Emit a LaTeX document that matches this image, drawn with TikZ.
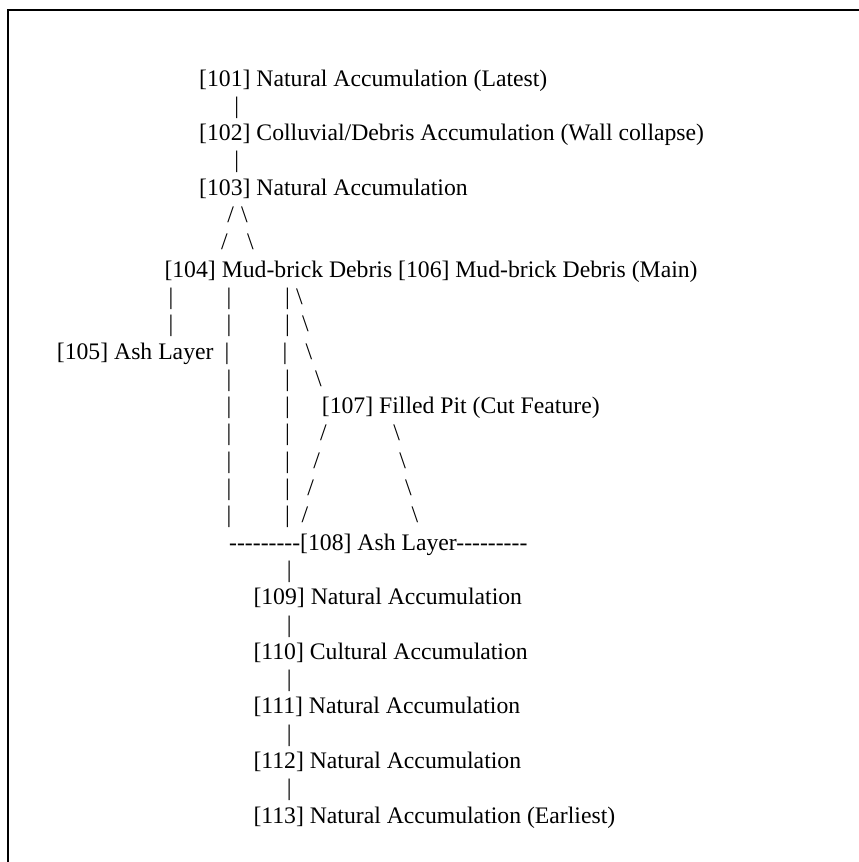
\documentclass[tikz,border=0pt]{standalone}
\usepackage{fontspec}
\setmainfont{Liberation Serif}[Ligatures=TeXOff]

\tikzset{
	unit/.style={anchor=base west, inner sep=0pt, font=\fontsize{23.7}{27.3}\selectfont},
	glyph/.style={anchor=base, inner sep=0pt, font=\fontsize{23.7}{27.3}\selectfont},
}

\begin{document}
\begin{tikzpicture}[x=1pt, y=-1pt]
		\useasboundingbox (0,0) rectangle (859,862);
		% Frame (left and top only)
		\draw[line width=1.2pt] (8,862) -- (8,10) -- (859,10);

		% Upper sequence
		\node[unit] (u101) at (199,86) {[101] Natural Accumulation (Latest)};
		\node[glyph] (l1) at (236.7,113.3) {|};
		\node[unit] (u102) at (199,140.6) {[102] Colluvial/Debris Accumulation (Wall collapse)};
		\node[glyph] (l2) at (236.7,167.9) {|};
		\node[unit] (u103) at (199,195.2) {[103] Natural Accumulation};
		\node[glyph] (s1) at (230.7,222.5) {/};
		\node[glyph] (k1) at (244.5,222.5) {\textbackslash};
		\node[glyph] (s2) at (224.3,249.8) {/};
		\node[glyph] (k2) at (250.5,249.8) {\textbackslash};
		\node[unit] (u104) at (164.3,277.1) {[104] Mud-brick Debris [106] Mud-brick Debris (Main)};

		% Branches below 104/106
		\foreach \y [count=\i] in {304.4,331.7} {
			\node[glyph] (pl\i) at (171,\y) {|};
		}
		\foreach \y [count=\i] in {304.4,331.7,386.3,413.6,440.9,468.2,495.5,522.8} {
			\node[glyph] (pa\i) at (229,\y) {|};
			\node[glyph] (pb\i) at (287.5,\y) {|};
		}
		\node[unit] (u105) at (56.7,359) {[105] Ash Layer};
		\node[glyph] (pa0) at (227,359) {|};
		\node[glyph] (pb0) at (285,359) {|};
		\foreach \x/\y [count=\i] in {299.5/304.4, 305.5/331.7, 309/359, 318.5/386.3} {
			\node[glyph] (d\i) at (\x,\y) {\textbackslash};
		}

		% Pit 107
		\node[unit] (u107) at (321.7,413.6) {[107] Filled Pit (Cut Feature)};
		\foreach \xa/\xb/\y [count=\i] in {323.3/396.7/440.9, 316.7/402.7/468.2, 310.7/408.3/495.5, 305/415/522.8} {
			\node[glyph] (ps\i) at (\xa,\y) {/};
			\node[glyph] (pk\i) at (\xb,\y) {\textbackslash};
		}

		% Lower sequence
		\node[unit] (u108) at (229,550.1) {---------[108] Ash Layer---------};
		\foreach \n/\y [count=\i] in {109/604.7, 110/659.3, 111/713.9, 112/768.5} {
			\node[glyph] (m\i) at (289.3,\y-27.3) {|};
		}
		\node[glyph] (m5) at (289.3,795.8) {|};
		\node[unit] (u109) at (253.3,604.7) {[109] Natural Accumulation};
		\node[unit] (u110) at (253.3,659.3) {[110] Cultural Accumulation};
		\node[unit] (u111) at (253.3,713.9) {[111] Natural Accumulation};
		\node[unit] (u112) at (253.3,768.5) {[112] Natural Accumulation};
		\node[unit] (u113) at (253.3,823.1) {[113] Natural Accumulation (Earliest)};
	\end{tikzpicture}
\end{document}
